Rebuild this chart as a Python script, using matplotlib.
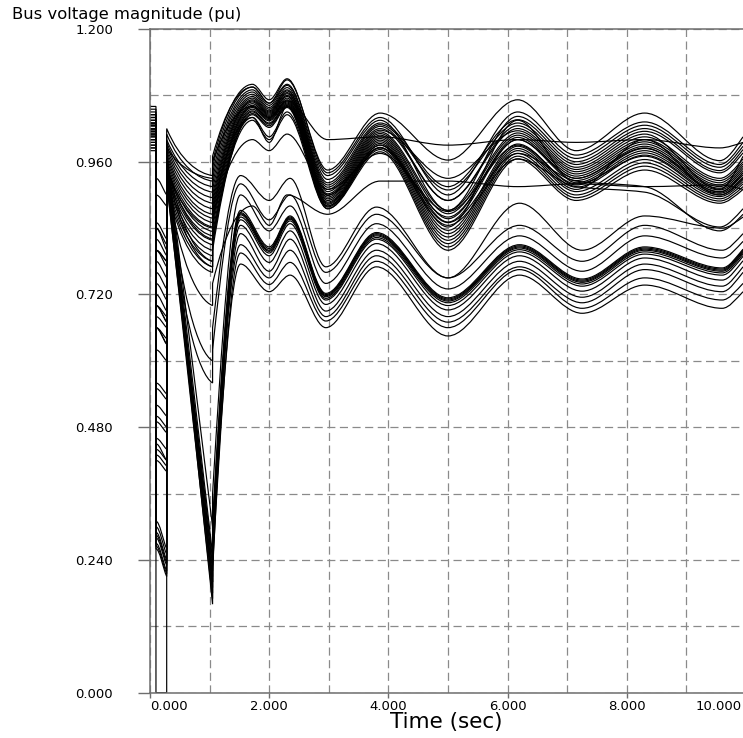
import numpy as np
import matplotlib
matplotlib.use("Agg")
import matplotlib.pyplot as plt
from matplotlib.path import Path
from matplotlib.patches import PathPatch

# ---------------- data ----------------
# event times: start, fault applied, fault cleared, switching action
t_events = [0.0, 0.1, 0.28, 1.05]
# swing extremum times after the switching action
t_swing_upper = [1.72, 2.0, 2.3, 2.98, 3.86, 5.0, 6.17, 7.15, 8.3, 9.56, 9.95]
t_swing_lower = [1.52, 2.0, 2.35, 2.95, 3.8, 5.0, 6.2, 7.25, 8.3, 9.6, 9.95]

# each row: [pre-fault, fault on, fault end, cleared, before switch, after switch, swing values...]
bus_u00 = [1.060, 0.93, 0.90, 1.020, 0.935, 0.970, 1.095, 1.066, 1.108, 0.945, 1.048, 0.963, 1.072, 0.980, 1.048, 0.962, 1.005]
bus_u01 = [1.055, 0.85, 0.82, 1.010, 0.925, 0.960, 1.100, 1.072, 1.110, 0.940, 1.040, 0.900, 1.050, 0.972, 1.032, 0.955, 0.995]
bus_u02 = [1.050, 0.84, 0.80, 1.000, 0.915, 0.950, 1.095, 1.066, 1.100, 0.935, 1.035, 0.872, 1.042, 0.966, 1.026, 0.950, 0.988]
bus_u03 = [1.045, 0.82, 0.79, 0.995, 0.905, 0.940, 1.090, 1.062, 1.098, 0.928, 1.030, 0.915, 1.036, 0.960, 1.020, 0.944, 0.982]
bus_u04 = [1.040, 0.80, 0.77, 0.990, 0.895, 0.930, 1.086, 1.058, 1.094, 0.922, 1.027, 0.909, 1.030, 0.955, 1.015, 0.940, 0.976]
bus_u05 = [1.035, 0.78, 0.75, 0.985, 0.885, 0.920, 1.082, 1.055, 1.090, 0.918, 1.024, 0.890, 1.025, 0.950, 1.010, 0.910, 0.970]
bus_u06 = [1.030, 0.72, 0.69, 0.980, 0.875, 0.910, 1.078, 1.052, 1.088, 0.914, 1.020, 0.890, 1.020, 0.946, 1.005, 0.930, 0.965]
bus_u07 = [1.028, 0.70, 0.67, 0.975, 0.865, 0.900, 1.075, 1.050, 1.085, 0.910, 1.017, 0.930, 1.016, 0.942, 1.000, 0.926, 0.960]
bus_u08 = [1.025, 0.68, 0.66, 0.970, 0.858, 0.892, 1.072, 1.048, 1.083, 0.906, 1.014, 0.872, 1.012, 0.938, 0.996, 0.922, 0.956]
bus_u09 = [1.020, 0.00, 0.00, 0.965, 0.850, 0.885, 1.070, 1.046, 1.080, 0.902, 1.011, 0.866, 1.008, 0.934, 0.992, 0.918, 0.952]
bus_u10 = [1.018, 0.66, 0.64, 0.960, 0.842, 0.878, 1.068, 1.044, 1.078, 0.899, 1.008, 0.857, 1.004, 0.930, 0.988, 0.915, 0.948]
bus_u11 = [1.015, 0.56, 0.54, 0.955, 0.834, 0.870, 1.065, 1.042, 1.075, 0.896, 1.005, 0.851, 1.000, 0.926, 0.984, 0.912, 0.944]
bus_u12 = [1.012, 0.52, 0.50, 0.950, 0.826, 0.862, 1.062, 1.040, 1.072, 0.893, 1.002, 0.842, 1.035, 0.922, 0.980, 0.909, 0.940]
bus_u13 = [1.010, 0.49, 0.47, 0.945, 0.818, 0.855, 1.060, 1.038, 1.070, 0.890, 0.999, 0.836, 0.992, 0.918, 0.976, 0.906, 0.936]
bus_u14 = [1.005, 0.46, 0.44, 0.940, 0.810, 0.848, 1.058, 1.036, 1.068, 0.887, 0.996, 0.830, 0.988, 0.914, 0.972, 0.903, 0.932]
bus_u15 = [1.000, 0.44, 0.42, 0.935, 0.800, 0.840, 1.055, 1.034, 1.066, 0.885, 0.993, 0.824, 0.984, 0.910, 1.000, 0.900, 0.928]
bus_u16 = [0.995, 0.42, 0.40, 0.930, 0.790, 0.830, 1.052, 1.030, 1.064, 0.883, 0.990, 0.818, 0.980, 0.906, 0.964, 0.897, 0.924]
bus_u17 = [0.990, 0.76, 0.73, 0.925, 0.780, 0.820, 1.050, 1.028, 1.062, 0.880, 0.986, 0.812, 0.975, 0.900, 0.958, 0.893, 0.920]
bus_u18 = [0.985, 0.74, 0.71, 0.920, 0.770, 0.810, 1.047, 1.025, 1.060, 0.878, 0.982, 0.806, 0.970, 0.895, 0.952, 0.889, 0.915]
bus_u19 = [0.980, 0.80, 0.78, 0.915, 0.760, 0.800, 1.045, 1.022, 1.058, 0.875, 0.978, 0.800, 0.965, 0.890, 0.945, 0.885, 0.910]
bus_s00 = [1.030, 0.90, 0.88, 0.985, 0.930, 0.960, 1.060, 1.040, 1.070, 1.000, 1.005, 0.990, 1.000, 0.995, 1.000, 0.985, 0.995]
bus_s01 = [1.000, 0.62, 0.60, 0.930, 0.700, 0.740, 0.880, 0.845, 0.900, 0.865, 0.925, 0.925, 0.915, 0.920, 0.915, 0.918, 0.910]
bus_s02 = [1.040, 0.84, 0.81, 0.960, 0.780, 0.820, 1.040, 1.005, 1.050, 0.880, 0.990, 0.850, 0.975, 0.925, 0.915, 0.835, 0.865]
bus_s03 = [1.025, 0.80, 0.78, 0.950, 0.770, 0.810, 1.035, 1.000, 1.045, 0.875, 0.985, 0.845, 0.965, 0.915, 0.905, 0.842, 0.875]
bus_s04 = [1.015, 0.70, 0.68, 0.955, 0.820, 0.860, 1.000, 0.980, 1.010, 0.910, 0.975, 0.870, 0.990, 0.920, 0.970, 0.900, 0.930]
bus_s05 = [1.008, 0.66, 0.63, 0.950, 0.840, 0.870, 1.040, 0.995, 1.060, 0.900, 0.985, 0.860, 1.000, 0.930, 0.985, 0.905, 0.940]

bus_l00 = [1.000, 0.70, 0.67, 0.960, 0.600, 0.660, 0.935, 0.890, 0.930, 0.770, 0.878, 0.750, 0.885, 0.800, 0.862, 0.840, 0.860]
bus_l01 = [0.995, 0.66, 0.63, 0.955, 0.560, 0.620, 0.920, 0.855, 0.900, 0.760, 0.865, 0.750, 0.845, 0.780, 0.845, 0.800, 0.830]
bus_l02 = [1.045, 0.31, 0.26, 0.975, 0.300, 0.360, 0.900, 0.835, 0.880, 0.740, 0.848, 0.730, 0.826, 0.762, 0.826, 0.786, 0.816]
bus_l03 = [1.040, 0.30, 0.25, 0.970, 0.250, 0.310, 0.872, 0.806, 0.862, 0.722, 0.832, 0.714, 0.810, 0.748, 0.806, 0.768, 0.802]
bus_l04 = [1.035, 0.29, 0.24, 0.965, 0.220, 0.280, 0.868, 0.803, 0.860, 0.720, 0.830, 0.712, 0.808, 0.746, 0.804, 0.766, 0.800]
bus_l05 = [1.030, 0.285, 0.235, 0.960, 0.200, 0.260, 0.866, 0.800, 0.858, 0.718, 0.828, 0.710, 0.806, 0.744, 0.802, 0.764, 0.798]
bus_l06 = [1.025, 0.28, 0.23, 0.955, 0.180, 0.240, 0.864, 0.798, 0.856, 0.716, 0.826, 0.708, 0.804, 0.742, 0.800, 0.762, 0.796]
bus_l07 = [1.020, 0.27, 0.22, 0.950, 0.160, 0.220, 0.860, 0.795, 0.853, 0.713, 0.823, 0.705, 0.801, 0.739, 0.797, 0.759, 0.793]
bus_l08 = [1.015, 0.265, 0.215, 0.945, 0.240, 0.300, 0.855, 0.790, 0.848, 0.710, 0.820, 0.700, 0.797, 0.735, 0.793, 0.755, 0.789]
bus_l09 = [1.010, 0.26, 0.21, 0.940, 0.210, 0.270, 0.845, 0.778, 0.835, 0.702, 0.812, 0.692, 0.790, 0.726, 0.786, 0.746, 0.781]
bus_l10 = [1.005, 0.45, 0.42, 0.935, 0.190, 0.250, 0.830, 0.762, 0.820, 0.690, 0.800, 0.680, 0.780, 0.715, 0.775, 0.735, 0.770]
bus_l11 = [1.000, 0.43, 0.41, 0.930, 0.230, 0.290, 0.810, 0.750, 0.800, 0.680, 0.790, 0.670, 0.770, 0.705, 0.765, 0.725, 0.760]
bus_l12 = [0.990, 0.50, 0.48, 0.925, 0.170, 0.230, 0.795, 0.738, 0.778, 0.672, 0.780, 0.660, 0.765, 0.695, 0.750, 0.710, 0.740]
bus_l13 = [0.985, 0.55, 0.53, 0.920, 0.200, 0.260, 0.775, 0.725, 0.755, 0.660, 0.770, 0.645, 0.755, 0.686, 0.737, 0.695, 0.725]

upper_curves = [bus_u00, bus_u01, bus_u02, bus_u03, bus_u04, bus_u05, bus_u06, bus_u07,
                bus_u08, bus_u09, bus_u10, bus_u11, bus_u12, bus_u13, bus_u14, bus_u15,
                bus_u16, bus_u17, bus_u18, bus_u19, bus_s00, bus_s01, bus_s02, bus_s03,
                bus_s04, bus_s05]
lower_curves = [bus_l00, bus_l01, bus_l02, bus_l03, bus_l04, bus_l05, bus_l06, bus_l07,
                bus_l08, bus_l09, bus_l10, bus_l11, bus_l12, bus_l13]

y_ticks = [0.0, 0.24, 0.48, 0.72, 0.96, 1.2]
y_tick_labels = ["0.000", "0.240", "0.480", "0.720", "0.960", "1.200"]
x_ticks = [0, 2, 4, 6, 8]
x_tick_labels = ["0.000", "2.000", "4.000", "6.000", "8.000"]
x_last_label = "10.000"
title = "Bus voltage magnitude (pu)"
x_label = "Time (sec)"


# ---------------- drawing helpers ----------------
def slopes(t, y):
    t = np.asarray(t, float); y = np.asarray(y, float)
    h = np.diff(t); d = np.diff(y) / h
    n = len(t); m = np.zeros(n)
    for i in range(1, n - 1):
        if d[i - 1] * d[i] > 0:
            w1 = 2 * h[i] + h[i - 1]; w2 = h[i] + 2 * h[i - 1]
            m[i] = (w1 + w2) / (w1 / d[i - 1] + w2 / d[i])
    def end(h0, h1, d0, d1):
        v = ((2 * h0 + h1) * d0 - h0 * d1) / (h0 + h1)
        if np.sign(v) != np.sign(d0):
            v = 0.0
        elif abs(v) > 3 * abs(d0):
            v = 3 * d0
        return v
    m[0] = end(h[0], h[1], d[0], d[1])
    m[-1] = end(h[-1], h[-2], d[-1], d[-2])
    return m


def curve_path(row, t_swing):
    pre, f0, f1, c0, s0, s1 = row[:6]
    swing = row[6:]
    t0, tf, tc, ts = t_events
    verts = [(t0, pre), (tf, pre), (tf, f0)]
    codes = [Path.MOVETO, Path.LINETO, Path.LINETO]
    dt = tc - tf
    verts += [(tf + dt * 0.35, f0), (tc - dt * 0.35, f1 + 0.3 * (f0 - f1)), (tc, f1)]
    codes += [Path.CURVE4] * 3
    verts.append((tc, c0)); codes.append(Path.LINETO)
    dp = ts - tc
    if s0 < 0.5:
        verts.append((ts, s0)); codes.append(Path.LINETO)
    else:
        verts += [(tc + dp * 0.3, s0 + 0.3 * (c0 - s0)), (tc + dp * 0.7, s0 + 0.04 * (c0 - s0)), (ts, s0)]
        codes += [Path.CURVE4] * 3
    verts.append((ts, s1)); codes.append(Path.LINETO)
    tt = [ts] + list(t_swing)
    yy = [s1] + list(swing)
    m = slopes(tt, yy)
    for i in range(len(tt) - 1):
        h = tt[i + 1] - tt[i]
        verts += [(tt[i] + h / 3, yy[i] + m[i] * h / 3),
                  (tt[i + 1] - h / 3, yy[i + 1] - m[i + 1] * h / 3),
                  (tt[i + 1], yy[i + 1])]
        codes += [Path.CURVE4] * 3
    return Path(verts, codes)


# ---------------- figure ----------------
W, H = 743, 738
fig = plt.figure(figsize=(W / 100, H / 100), dpi=100)
ax_left, ax_right, ax_top, ax_bot = 150, 743, 29, 692.7
ax = fig.add_axes([ax_left / W, (H - ax_bot) / H, (ax_right - ax_left) / W, (ax_bot - ax_top) / H])

ax.set_xlim(0, (ax_right - ax_left) / 59.6)
ax.set_ylim(0, 1.2)

grid_kw = dict(color="#8a8a8a", linewidth=0.9, linestyle=(0, (6.5, 3.6)))
ax.set_xticks(x_ticks)
ax.set_xticklabels(x_tick_labels)
ax.set_xticks([1, 3, 5, 7, 9], minor=True)
ax.set_yticks(y_ticks)
ax.set_yticklabels(y_tick_labels)
ax.set_yticks([0.12, 0.36, 0.60, 0.84, 1.08], minor=True)
ax.grid(True, which="both", **grid_kw)
ax.set_axisbelow(True)

for row in upper_curves:
    ax.add_patch(PathPatch(curve_path(row, t_swing_upper), fill=False, edgecolor="black", linewidth=0.85))
for row in lower_curves:
    ax.add_patch(PathPatch(curve_path(row, t_swing_lower), fill=False, edgecolor="black", linewidth=0.85))

spine_c = "#6e6e6e"
for s in ["left", "bottom", "top"]:
    ax.spines[s].set_color(spine_c)
    ax.spines[s].set_linewidth(1.1)
ax.spines["right"].set_visible(False)

ax.tick_params(axis="y", which="major", length=8.6, width=1.0, color=spine_c, pad=18,
               labelsize=9.5, direction="out")
ax.tick_params(axis="x", which="major", length=3.6, width=1.0, color=spine_c, pad=1.5,
               labelsize=9.5, direction="out")
ax.tick_params(which="minor", length=0)
ax.get_xticklabels()[0].set_horizontalalignment("left")

fig.text(742 / W, 1 - 699.5 / H, x_last_label, ha="right", va="top", fontsize=9.5)
fig.text(12 / W, 1 - 19.5 / H, title, ha="left", va="baseline", fontsize=11.8)
fig.text((ax_left + ax_right) / 2 / W, 1 - 728 / H, x_label, ha="center", va="baseline", fontsize=15.5)

fig.savefig("out.png", dpi=100)
